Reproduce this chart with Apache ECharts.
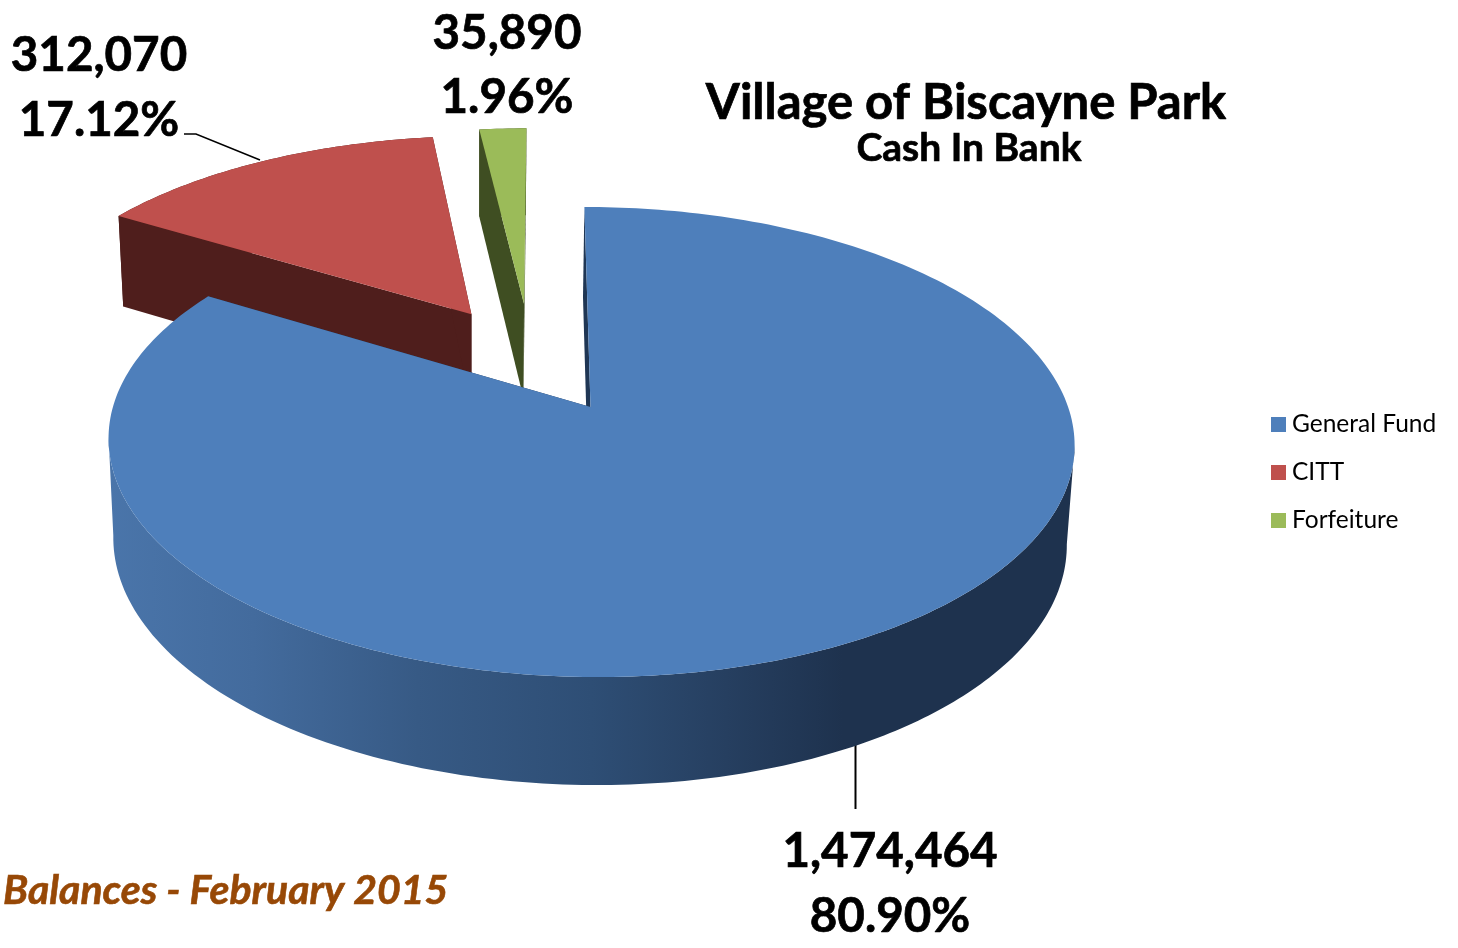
<!DOCTYPE html>
<html><head><meta charset="utf-8">
<style>html,body{margin:0;background:#fff}#c{width:1458px;height:948px}</style>
<script src="https://cdn.jsdelivr.net/npm/echarts@6/dist/echarts.min.js"></script>
</head><body><div id="c"></div>
<script>
const categories = ['General Fund', 'CITT', 'Forfeiture'];
const values = [1474464, 312070, 35890];
const percents = ['80.90%', '17.12%', '1.96%'];
const topColors = ['#4e7fbb', '#bf504d', '#9bbb59'];
const wallColors = ['#1f3654', '#4f1e1c', '#3f4e22'];
// pie "camera"
const view = {ax: 590.5, ay: 407, R: 477.6, S: 229.8, k: 0.149, lean: -7, cx: 591, shrink: 0.987, shift: -1.5, depth: 108, skew: 11.5};
// exploded offset of each slice on the pie's ground plane (unit = pie radius), and its radius
const explode = [[0, 0, 1], [-0.259, 0.43, 1], [-0.142, 0.48, 1]];
const FONT = 'Lato, "Open Sans", sans-serif';

const total = values.reduce((a, b) => a + b, 0);
const starts = values.map((_, i) => values.slice(0, i).reduce((a, b) => a + b, 0) / total * 360);

function proj(u, v, low) {
  const w = 1 + view.k * v;
  let X = view.ax + view.R * u / w + view.lean * v / w;
  let Y = view.ay - view.S * v / w;
  if (low) {
    X = view.cx + (X - view.cx) * view.shrink + view.shift;
    Y += view.depth * Math.pow(0.851 / w, 0.6);
  }
  return [X, Y];
}
function rim(deg, off, low) {
  const s0 = Math.sin(deg * Math.PI / 180);
  const a = (deg + view.skew * s0 * s0) * Math.PI / 180;
  return proj(off[0] + off[2] * Math.sin(a), off[1] + off[2] * Math.cos(a), low);
}
const extremes = pts => {
  let lo = 0, hi = 0;
  pts.forEach((p, i) => { if (p[0] < pts[lo][0]) lo = i; if (p[0] > pts[hi][0]) hi = i; });
  return [lo, hi];
};
function renderSlice(idx) {
  return function (params, api) {
    const val = api.value(0);
    const a0 = starts[idx], a1 = a0 + val / total * 360;
    const off = explode[idx];
    const n = Math.max(6, Math.ceil(a1 - a0));
    const up = [], low = [];
    for (let i = 0; i <= n; i++) {
      const d = a0 + (a1 - a0) * i / n;
      up.push(rim(d, off, false));
      low.push(rim(d, off, true));
    }
    const apexUp = proj(off[0], off[1], false), apexLow = proj(off[0], off[1], true);
    const outerFill = idx === 0 ? new echarts.graphic.LinearGradient(108, 0, 1075, 0, [
      {offset: 0, color: '#4a75aa'}, {offset: 0.15, color: '#436b9d'}, {offset: 0.32, color: '#375a85'},
      {offset: 0.5, color: '#2e4e75'}, {offset: 0.64, color: '#263f60'}, {offset: 0.76, color: '#1e324e'},
      {offset: 1, color: '#1e324e'}], true) : wallColors[idx];
    const poly = (pts, fill) => ({type: 'polygon', shape: {points: pts}, style: {fill: fill}});
    // outer wall: silhouette between the widest points of both rims when the slice wraps the front
    const [uLo, uHi] = extremes(up), [dLo, dHi] = extremes(low);
    const wall = uHi < uLo
      ? up.slice(uHi, uLo + 1).concat(low.slice(dHi, dLo + 1).reverse())
      : up.concat(low.slice().reverse());
    return {type: 'group', children: [
      poly(wall, outerFill),
      poly([apexUp, up[0], low[0], apexLow], wallColors[idx]),
      poly([apexUp, up[n], low[n], apexLow], wallColors[idx]),
      poly([apexUp].concat(up), topColors[idx])
    ]};
  };
}
const fmt = v => v.toLocaleString('en-US');
const bold = (text, x, y, size) => ({type: 'text', x: x, y: y, style: {text: text, fill: '#000', stroke: '#000', lineWidth: 0.7, font: 'bold ' + size + 'px ' + FONT, align: 'center', verticalAlign: 'middle'}});
const leader = (pts, lw) => ({type: 'polyline', shape: {points: pts}, style: {stroke: '#000', lineWidth: lw, fill: null}});

const chart = echarts.init(document.getElementById('c'));
chart.setOption({
  animation: false,
  backgroundColor: '#fff',
  legend: {
    data: categories, orient: 'vertical', left: 1266, top: 407, itemWidth: 15, itemHeight: 15, itemGap: 23,
    icon: 'rect', textStyle: {color: '#000', fontSize: 24.5, fontFamily: FONT, padding: [0, 0, 0, 1]}, selectedMode: false
  },
  series: [1, 2, 0].map(i => ({
    type: 'custom', name: categories[i], coordinateSystem: 'none', silent: true,
    itemStyle: {color: topColors[i]}, data: [[values[i]]], renderItem: renderSlice(i)
  })),
  graphic: [
    leader([[184, 134], [196, 134], [260, 160]], 1.5),
    leader([[855.5, 745], [855.5, 809]], 2),
    bold(fmt(values[1]), 99, 56, 47.5), bold(percents[1], 99, 121, 47.5),
    bold(fmt(values[2]), 507, 34, 47.5), bold(percents[2], 507, 98, 47.5),
    bold(fmt(values[0]), 890, 852, 47.5), bold(percents[0], 890, 917, 47.5),
    bold('Village of Biscayne Park', 966, 103, 49),
    bold('Cash In Bank', 969, 148, 39),
    {type: 'text', x: 3, y: 891, style: {text: 'Balances - February 2015', fill: '#974806', stroke: '#974806', lineWidth: 0.6, font: 'italic bold 41px ' + FONT, align: 'left', verticalAlign: 'middle'}}
  ]
});
</script></body></html>
